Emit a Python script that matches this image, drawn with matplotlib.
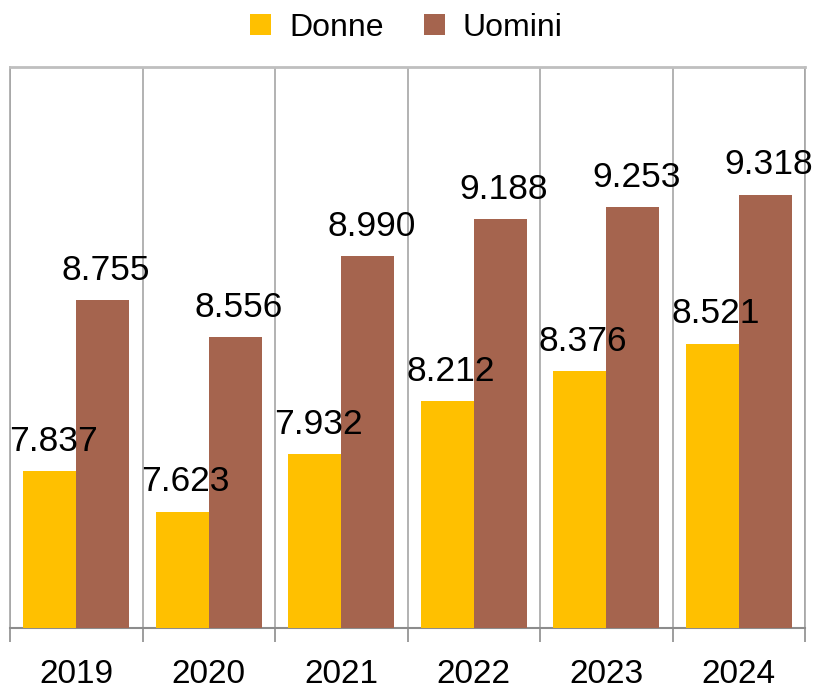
import numpy as np
import matplotlib
matplotlib.use("Agg")
import matplotlib.pyplot as plt

YEARS = ["2019", "2020", "2021", "2022", "2023", "2024"]
DONNE = [7.837, 7.623, 7.932, 8.212, 8.376, 8.521]
UOMINI = [8.755, 8.556, 8.990, 9.188, 9.253, 9.318]
SERIES_NAMES = ["Donne", "Uomini"]

COLORS = ["#FFC000", "#A5644E"]
FONT = ["Liberation Sans", "DejaVu Sans"]
BAR_WIDTH = 0.4
GRID_COLOR = "#A6A6A6"

plt.rcParams["font.family"] = FONT


def _fmt(v: float) -> str:
    return f"{v:.3f}"


fig = plt.figure(figsize=(8.13, 6.88), dpi=100)
ax = fig.add_axes([0.0123, 0.0872, 0.9779, 0.8154])

x = np.arange(len(YEARS))
bars = []
for i, (vals, name) in enumerate(zip([DONNE, UOMINI], SERIES_NAMES)):
    offset = (i - 0.5) * BAR_WIDTH
    b = ax.bar(x + offset, np.array(vals) - 7.0, BAR_WIDTH, bottom=7.0,
               color=COLORS[i], label=name, zorder=3)
    bars.append(b)
    for xi, v in zip(x + offset, vals):
        ax.annotate(_fmt(v), (xi, v), xytext=(2.5, 9.5), textcoords="offset points",
                    ha="center", va="bottom", fontsize=25.5, color="black",
                    zorder=4)

ax.set_xlim(-0.5, len(YEARS) - 0.5)
ax.set_ylim(7.0, 10.0)
ax.set_yticks([])

ax.set_xticks(x)
ax.set_xticklabels(YEARS, fontsize=24)
ax.set_xticks(np.arange(len(YEARS) + 1) - 0.5, minor=True)
ax.tick_params(axis="x", which="major", length=0, pad=22)
ax.tick_params(axis="x", which="minor", length=10, width=1.2, color="#8C8C8C",
               direction="out")
ax.grid(axis="x", which="minor", color=GRID_COLOR, linewidth=1.2, zorder=0)

for side in ["left", "right"]:
    ax.spines[side].set_color(GRID_COLOR)
    ax.spines[side].set_linewidth(1.2)
ax.spines["top"].set_color("#BFBFBF")
ax.spines["top"].set_linewidth(2)
ax.spines["bottom"].set_color("#8C8C8C")
ax.spines["bottom"].set_linewidth(1.5)

fig.legend(handles=bars, labels=SERIES_NAMES, loc="upper center",
           bbox_to_anchor=(0.5, 1.012), ncol=2, frameon=False, fontsize=23,
           handlelength=0.66, handleheight=0.66, handletextpad=0.56,
           columnspacing=1.25, borderaxespad=0.25)

fig.savefig("out.png", dpi=100)
